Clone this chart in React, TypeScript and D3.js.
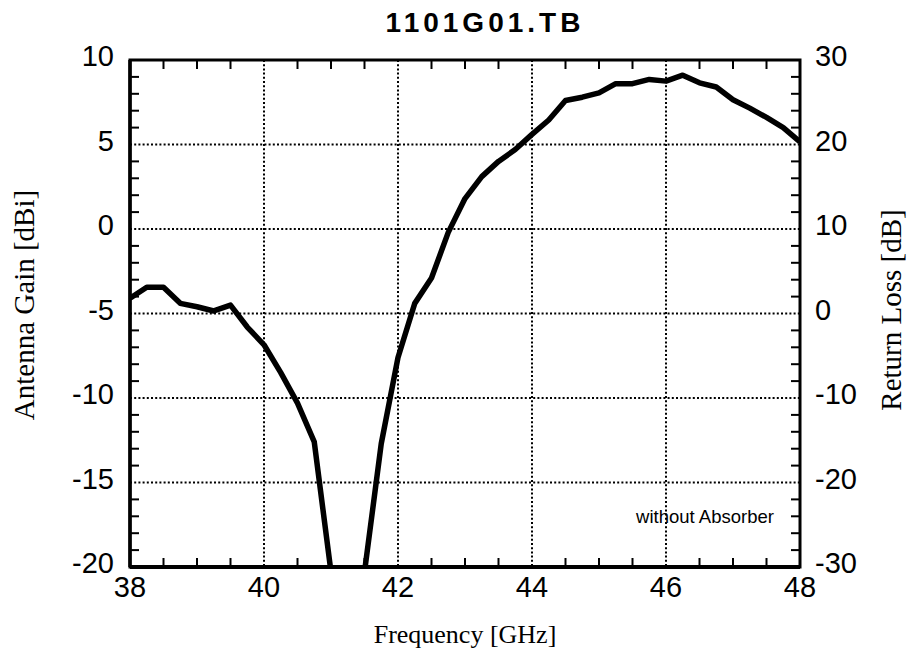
import React from "react";
import * as d3 from "d3";

const title = "1101G01.TB";
const freqGHz = [38.0, 38.25, 38.5, 38.75, 39.0, 39.25, 39.5, 39.75, 40.0, 40.25, 40.5, 40.75, 41.0, 41.25, 41.5, 41.75, 42.0, 42.25, 42.5, 42.75, 43.0, 43.25, 43.5, 43.75, 44.0, 44.25, 44.5, 44.75, 45.0, 45.25, 45.5, 45.75, 46.0, 46.25, 46.5, 46.75, 47.0, 47.25, 47.5, 47.75, 48.0];
const gainDBi = [-4.1, -3.45, -3.45, -4.4, -4.6, -4.85, -4.5, -5.8, -6.85, -8.5, -10.3, -12.6, -20.3, -30, -20.3, -12.7, -7.6, -4.4, -2.9, -0.2, 1.8, 3.1, 4.0, 4.7, 5.6, 6.45, 7.6, 7.8, 8.05, 8.6, 8.6, 8.85, 8.75, 9.1, 8.65, 8.4, 7.65, 7.15, 6.6, 6.0, 5.15];
const xTicks = [38, 40, 42, 44, 46, 48];
const yLeftTicks = [10, 5, 0, -5, -10, -15, -20];
const yRightTicks = [30, 20, 10, 0, -10, -20, -30];
const note = "without Absorber";
const xLabel = "Frequency [GHz]";
const yLeftLabel = "Antenna Gain [dBi]";
const yRightLabel = "Return Loss [dB]";

export default function App() {
  const W = 908, H = 659;
  const L = 130, R = 800, T = 60, B = 567;
  const x = d3.scaleLinear().domain([38, 48]).range([L, R]);
  const y = d3.scaleLinear().domain([-20, 10]).range([B, T]);
  const yR = d3.scaleLinear().domain([-30, 30]).range([B, T]);
  const line = d3.line<number>().x((_, i) => x(freqGHz[i])).y((d) => y(d));
  const minorX = d3.range(38, 48.001, 0.5).filter((v) => Math.abs(v % 2) > 1e-6);
  const minorY = d3.range(-20, 10.001, 1).filter((v) => Math.abs(v % 5) > 1e-6);
  const minorYR = d3.range(-30, 30.001, 2).filter((v) => Math.abs(v % 10) > 1e-6);
  const gridX = xTicks.slice(1, -1);
  const gridY = yLeftTicks.slice(1, -1);
  const tl = 9;
  const sans = "'Liberation Sans', Arial, Helvetica, sans-serif";
  const serif = "'Liberation Serif', 'Times New Roman', serif";
  return (
    <svg width={W} height={H} style={{ position: "absolute", left: 0, top: 0, background: "#fff" }}>
      <defs>
        <clipPath id="plot">
          <rect x={L} y={T} width={R - L} height={B - T} />
        </clipPath>
      </defs>
      <text x={485} y={32} textAnchor="middle" fontFamily={sans} fontWeight="bold" fontSize={28} letterSpacing={4}>{title}</text>
      {gridX.map((v) => (
        <line key={"gx" + v} x1={x(v)} x2={x(v)} y1={T} y2={B} stroke="#000" strokeWidth={2} strokeDasharray="2,2.2" />
      ))}
      {gridY.map((v) => (
        <line key={"gy" + v} x1={L} x2={R} y1={y(v)} y2={y(v)} stroke="#000" strokeWidth={2} strokeDasharray="2,2.2" />
      ))}
      {minorX.map((v) => (
        <g key={"mx" + v}>
          <line x1={x(v)} x2={x(v)} y1={B} y2={B - tl} stroke="#000" strokeWidth={2} />
          <line x1={x(v)} x2={x(v)} y1={T} y2={T + tl} stroke="#000" strokeWidth={2} />
        </g>
      ))}
      {minorY.map((v) => (
        <line key={"my" + v} x1={L} x2={L + tl} y1={y(v)} y2={y(v)} stroke="#000" strokeWidth={2} />
      ))}
      {minorYR.map((v) => (
        <line key={"myr" + v} x1={R} x2={R - tl} y1={yR(v)} y2={yR(v)} stroke="#000" strokeWidth={2} />
      ))}
      <path d={line(gainDBi) || ""} fill="none" stroke="#000" strokeWidth={5.5} strokeLinejoin="round" clipPath="url(#plot)" />
      <rect x={L} y={T} width={R - L} height={B - T} fill="none" stroke="#000" strokeWidth={3} />
      <line x1={L} x2={R} y1={B} y2={B} stroke="#000" strokeWidth={4} />
      <line x1={L} x2={L} y1={T} y2={B} stroke="#000" strokeWidth={3.5} />
      {xTicks.map((v) => (
        <text key={"xt" + v} x={x(v)} y={597} textAnchor="middle" fontFamily={sans} fontSize={29}>{v}</text>
      ))}
      {yLeftTicks.map((v) => (
        <text key={"yl" + v} x={L - 16} y={y(v) + 6} textAnchor="end" fontFamily={sans} fontSize={29}>{v}</text>
      ))}
      {yRightTicks.map((v) => (
        <text key={"yr" + v} x={R + 15} y={yR(v) + 6} textAnchor="start" fontFamily={sans} fontSize={29}>{v}</text>
      ))}
      <text x={705} y={523} textAnchor="middle" fontFamily={sans} fontSize={18.5}>{note}</text>
      <text x={465} y={643} textAnchor="middle" fontFamily={serif} fontSize={26}>{xLabel}</text>
      <text transform={`translate(34,305) rotate(-90)`} textAnchor="middle" fontFamily={serif} fontSize={29}>{yLeftLabel}</text>
      <text transform={`translate(901,310) rotate(-90)`} textAnchor="middle" fontFamily={serif} fontSize={29}>{yRightLabel}</text>
    </svg>
  );
}
